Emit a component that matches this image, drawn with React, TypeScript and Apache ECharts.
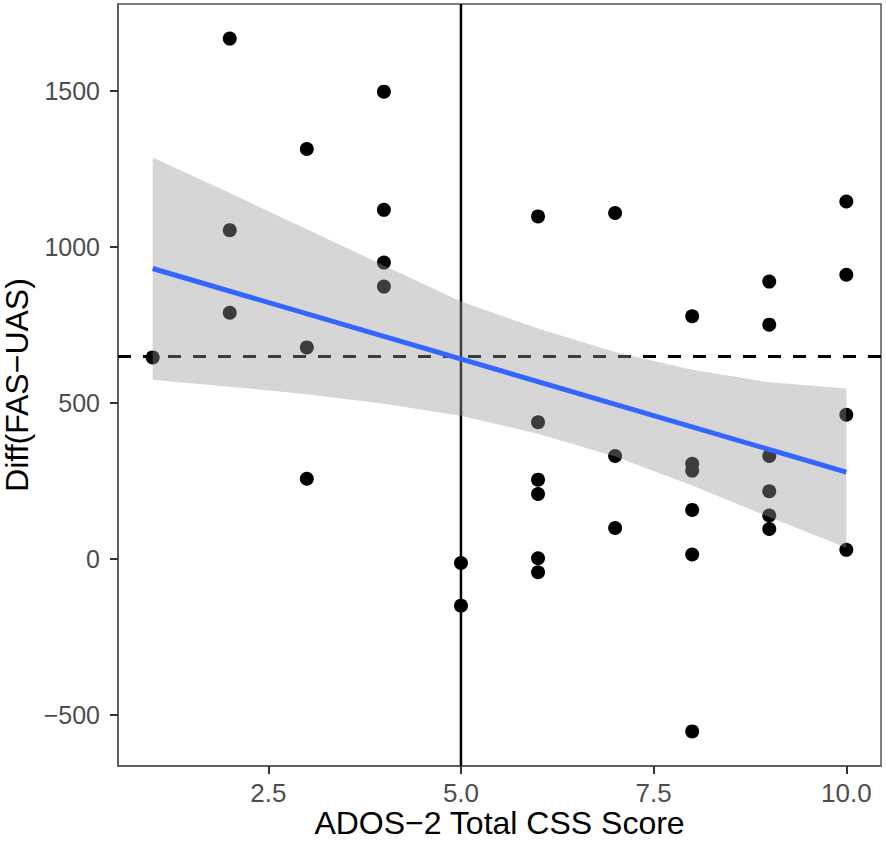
import React, { useEffect, useRef } from "react";
import * as echarts from "echarts";

// ---- data ----
const POINTS_X: number[] = [
  1,
  2, 2, 2,
  3, 3, 3,
  4, 4, 4, 4,
  5, 5,
  6, 6, 6, 6, 6, 6,
  7, 7, 7,
  8, 8, 8, 8, 8, 8,
  9, 9, 9, 9, 9, 9,
  10, 10, 10, 10,
];
const POINTS_Y: number[] = [
  645,
  1667, 1053, 788,
  1313, 677, 256,
  1497, 1118, 949, 872,
  -14, -151,
  1097, 437, 253, 207, 1, -44,
  1108, 329, 98,
  777, 304, 282, 156, 13, -554,
  888, 750, 329, 216, 138, 95,
  1145, 910, 461, 28,
];

const FIT_X: number[] = [1, 10];
const FIT_Y: number[] = [930, 277];

const BAND_X: number[] = [1, 2, 3, 4, 5, 6, 7, 8, 9, 10];
const BAND_UPPER: number[] = [1286, 1172, 1056, 940, 824, 738, 662, 605, 565, 545];
const BAND_LOWER: number[] = [573, 551, 527, 496, 458, 400, 327, 234, 133, 35];

const HLINE_Y = 648;
const VLINE_X = 5;

const X_MIN = 0.55;
const X_MAX = 10.45;
const Y_MIN = -665;
const Y_MAX = 1778;

const X_TICKS: number[] = [2.5, 5, 7.5, 10];
const X_TICK_LABELS: string[] = ["2.5", "5.0", "7.5", "10.0"];
const Y_TICKS: number[] = [-500, 0, 500, 1000, 1500];
const Y_TICK_LABELS: string[] = ["\u2212500", "0", "500", "1000", "1500"];

const X_TITLE = "ADOS\u22122 Total CSS Score";
const Y_TITLE = "Diff(FAS\u2212UAS)";

const FONT = "'Liberation Sans', Arial, Helvetica, sans-serif";

export default function App() {
  const ref = useRef<HTMLDivElement>(null);

  useEffect(() => {
    if (!ref.current) return;
    const chart = echarts.init(ref.current, undefined, { renderer: "svg" });

    const option: any = {
      animation: false,
      backgroundColor: "#ffffff",
      grid: {
        left: 118,
        right: 5,
        top: 4,
        bottom: 76,
        containLabel: false,
        outerBoundsMode: "none",
        show: true,
        borderColor: "#555555",
        borderWidth: 1.5,
        backgroundColor: "transparent",
      },
      xAxis: {
        type: "value",
        min: X_MIN,
        max: X_MAX,
        name: X_TITLE,
        nameLocation: "middle",
        nameGap: 41,
        nameMoveOverlap: false,
        nameTextStyle: { fontSize: 32, lineHeight: 32, color: "#000000", fontFamily: FONT },
        axisLine: { show: true, onZero: false, lineStyle: { color: "#555555", width: 1.5 } },
        axisTick: {
          show: true,
          length: 8,
          customValues: X_TICKS,
          lineStyle: { color: "#333333", width: 2 },
        },
        axisLabel: {
          customValues: X_TICKS,
          margin: 15,
          fontSize: 26,
          lineHeight: 24,
          color: "#4d4d4d",
          fontFamily: FONT,
          formatter: (v: number) => {
            const i = X_TICKS.indexOf(v);
            return i >= 0 ? X_TICK_LABELS[i] : "";
          },
        },
        splitLine: { show: false },
      },
      yAxis: {
        type: "value",
        min: Y_MIN,
        max: Y_MAX,
        name: Y_TITLE,
        nameLocation: "middle",
        nameGap: 74,
        nameRotate: 90,
        nameTextStyle: { fontSize: 32, color: "#000000", fontFamily: FONT },
        axisLine: { show: true, onZero: false, lineStyle: { color: "#555555", width: 1.5 } },
        axisTick: {
          show: true,
          length: 8,
          customValues: Y_TICKS,
          lineStyle: { color: "#333333", width: 2 },
        },
        axisLabel: {
          customValues: Y_TICKS,
          margin: 18,
          fontSize: 25,
          color: "#4d4d4d",
          fontFamily: FONT,
          formatter: (v: number) => {
            const i = Y_TICKS.indexOf(v);
            return i >= 0 ? Y_TICK_LABELS[i] : "";
          },
        },
        splitLine: { show: false },
      },
      series: [
        {
          type: "scatter",
          data: POINTS_X.map((x, i) => [x, POINTS_Y[i]]),
          symbol: "circle",
          symbolSize: 14,
          itemStyle: { color: "#000000", opacity: 1 },
          z: 2,
          silent: true,
        },
        {
          type: "line",
          data: [
            [X_MIN, HLINE_Y],
            [X_MAX, HLINE_Y],
          ],
          showSymbol: false,
          lineStyle: { color: "#000000", width: 3, type: [13, 12] },
          z: 3,
          silent: true,
        },
        {
          type: "line",
          data: [
            [VLINE_X, Y_MIN],
            [VLINE_X, Y_MAX],
          ],
          showSymbol: false,
          lineStyle: { color: "#000000", width: 2.5 },
          z: 3,
          silent: true,
        },
        {
          type: "custom",
          data: BAND_X.map((x, i) => [x, BAND_LOWER[i], BAND_UPPER[i]]),
          encode: { x: 0, y: [1, 2] },
          renderItem: (params: any, api: any) => {
            if (params.dataIndex !== 0) return null;
            const pts: number[][] = [];
            for (let i = 0; i < BAND_X.length; i++) {
              pts.push(api.coord([BAND_X[i], BAND_UPPER[i]]));
            }
            for (let i = BAND_X.length - 1; i >= 0; i--) {
              pts.push(api.coord([BAND_X[i], BAND_LOWER[i]]));
            }
            return {
              type: "polygon",
              shape: { points: pts },
              style: { fill: "rgba(153,153,153,0.4)" },
            };
          },
          z: 5,
          silent: true,
        },
        {
          type: "line",
          data: FIT_X.map((x, i) => [x, FIT_Y[i]]),
          showSymbol: false,
          lineStyle: { color: "#3366FF", width: 5 },
          z: 6,
          silent: true,
        },
      ],
    };

    chart.setOption(option);
    return () => {
      chart.dispose();
    };
  }, []);

  return (
    <div
      ref={ref}
      style={{ position: "fixed", left: 0, top: 0, width: 886, height: 842 }}
    />
  );
}
